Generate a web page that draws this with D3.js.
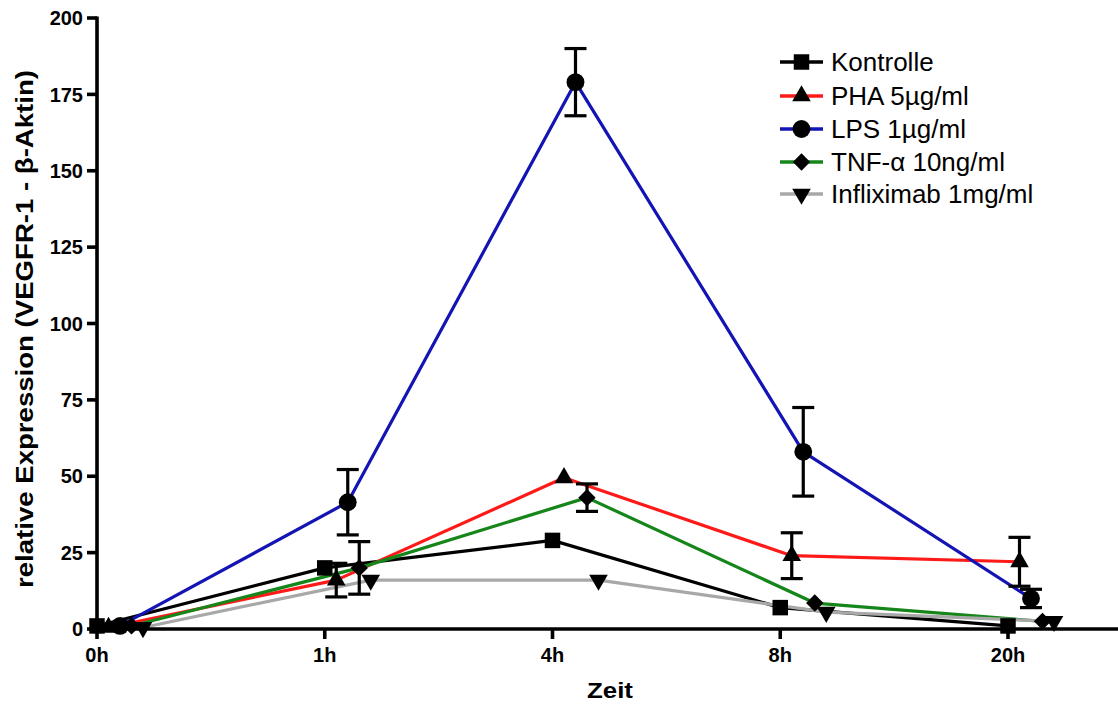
<!DOCTYPE html>
<html><head><meta charset="utf-8">
<script src="https://cdn.jsdelivr.net/npm/d3@7"></script>
<style>
body{margin:0;background:#fff;}
text{font-family:Arial,"Liberation Sans",sans-serif;}
</style></head>
<body><svg id="c" width="1118" height="704"></svg>
<script>
const categories = ["0h","1h","4h","8h","20h"];
const seriesNames = ["Kontrolle","PHA 5µg/ml","LPS 1µg/ml","TNF-α 10ng/ml","Infliximab 1mg/ml"];
const kontrolle   = [1.0, 20.0, 29.0, 7.0, 1.0];
const pha         = [0.5, 16.0, 49.5, 24.0, 22.0];
const lps         = [1.0, 41.5, 179.0, 58.0, 10.0];
const tnf         = [1.0, 20.0, 43.0, 8.5, 2.5];
const infliximab  = [0.5, 16.0, 16.0, 5.5, 2.5];
const kontrolleErr  = [0, 0, 0, 0, 0];
const phaErr        = [0, 5.5, 0, 7.5, 8];
const lpsErr        = [0, 10.7, 11, 14.5, 3];
const tnfErr        = [0, 8.6, 4.5, 0, 0];
const infliximabErr = [0, 0, 0, 0, 0];
const yTicks = [0,25,50,75,100,125,150,175,200];
const colors = ["#000000","#ff1a1a","#1414b4","#16861a","#a8a8a8"];
const symbols = ["square","triangle","circle","diamond","triangleDown"];

const svg = d3.select("#c");
const x0 = 97, step = 227.75, dodge = 11.5;
const y = d3.scaleLinear().domain([0,200]).range([629,18]);
const xBand = d3.scalePoint().domain(categories).range([x0, x0 + step*(categories.length-1)]);
const px = (i, s) => xBand(categories[i]) + s*dodge;

const data = [kontrolle, pha, lps, tnf, infliximab];
const errs = [kontrolleErr, phaErr, lpsErr, tnfErr, infliximabErr];

function symPath(t){
  if(t==="square") return d3.symbol(d3.symbolSquare, 240)();
  if(t==="circle") return d3.symbol(d3.symbolCircle, 250)();
  if(t==="triangle") return d3.symbol(d3.symbolTriangle, 150)();
  if(t==="triangleDown") return d3.symbol(d3.symbolTriangle, 150)();
  if(t==="diamond") return d3.symbol(d3.symbolSquare, 150)();
}
function symTransform(t){
  if(t==="triangleDown") return " rotate(180)";
  if(t==="diamond") return " rotate(45)";
  return "";
}

const line = d3.line().x(d=>d[0]).y(d=>d[1]);
const order = [0,1,2,3,4];
order.forEach(s=>{
  const pts = data[s].map((v,i)=>[px(i,s), y(v)]);
  svg.append("path").attr("d", line(pts)).attr("fill","none")
    .attr("stroke", colors[s]).attr("stroke-width",3.2).attr("stroke-linejoin","round");
});
order.forEach(s=>{
  data[s].forEach((v,i)=>{
    const e = errs[s][i]; if(!e) return;
    const cx = px(i,s);
    const g = svg.append("g").attr("stroke","#000").attr("stroke-width",3.2);
    g.append("line").attr("x1",cx).attr("x2",cx).attr("y1",y(v-e)).attr("y2",y(v+e));
    g.append("line").attr("x1",cx-11).attr("x2",cx+11).attr("y1",y(v+e)).attr("y2",y(v+e));
    g.append("line").attr("x1",cx-11).attr("x2",cx+11).attr("y1",y(v-e)).attr("y2",y(v-e));
  });
});
order.forEach(s=>{
  data[s].forEach((v,i)=>{
    svg.append("path").attr("d", symPath(symbols[s]))
      .attr("transform", `translate(${px(i,s)},${y(v)})` + symTransform(symbols[s]))
      .attr("fill","#000");
  });
});

// axes
const yAxis = svg.append("g");
yAxis.append("line").attr("x1",x0).attr("x2",x0).attr("y1",y(0)+2).attr("y2",y(200)-1.5)
  .attr("stroke","#000").attr("stroke-width",3.6);
yTicks.forEach(t=>{
  yAxis.append("line").attr("x1",x0-10).attr("x2",x0).attr("y1",y(t)).attr("y2",y(t))
    .attr("stroke","#000").attr("stroke-width",3.6);
  yAxis.append("text").attr("x",x0-14).attr("y",y(t)).attr("dy","0.36em")
    .attr("text-anchor","end").attr("font-size",20).attr("font-weight","bold").text(t);
});
const xAxis = svg.append("g");
xAxis.append("line").attr("x1",x0-1.8).attr("x2",1118).attr("y1",y(0)).attr("y2",y(0))
  .attr("stroke","#000").attr("stroke-width",3.6);
categories.forEach(c=>{
  xAxis.append("line").attr("x1",xBand(c)).attr("x2",xBand(c)).attr("y1",y(0)).attr("y2",y(0)+10)
    .attr("stroke","#000").attr("stroke-width",3.6);
  xAxis.append("text").attr("x",xBand(c)).attr("y",y(0)+26).attr("dy","0.36em")
    .attr("text-anchor","middle").attr("font-size",20).attr("font-weight","bold").text(c);
});
svg.append("text").attr("x",610).attr("y",690).attr("dy","0.36em").attr("text-anchor","middle")
  .attr("font-size",22).attr("font-weight","bold")
  .attr("textLength",46).attr("lengthAdjust","spacingAndGlyphs").text("Zeit");
svg.append("text").attr("transform","translate(25,329) rotate(-90)").attr("text-anchor","middle")
  .attr("dy","0.36em").attr("font-size",23).attr("font-weight","bold")
  .attr("textLength",518).attr("lengthAdjust","spacingAndGlyphs")
  .text("relative Expression (VEGFR-1 - β-Aktin)");

// legend
const leg = svg.append("g");
const rowsY = [62, 96, 129, 162, 194];
seriesNames.forEach((n,s)=>{
  const ly = rowsY[s];
  leg.append("line").attr("x1",780).attr("x2",823).attr("y1",ly).attr("y2",ly)
    .attr("stroke",colors[s]).attr("stroke-width",3.5);
  leg.append("path").attr("d", symPath(symbols[s]))
    .attr("transform", `translate(801.5,${ly})` + symTransform(symbols[s])).attr("fill","#000");
  leg.append("text").attr("x",831).attr("y",ly).attr("dy","0.36em").attr("font-size",26).text(n);
});
</script></body></html>
